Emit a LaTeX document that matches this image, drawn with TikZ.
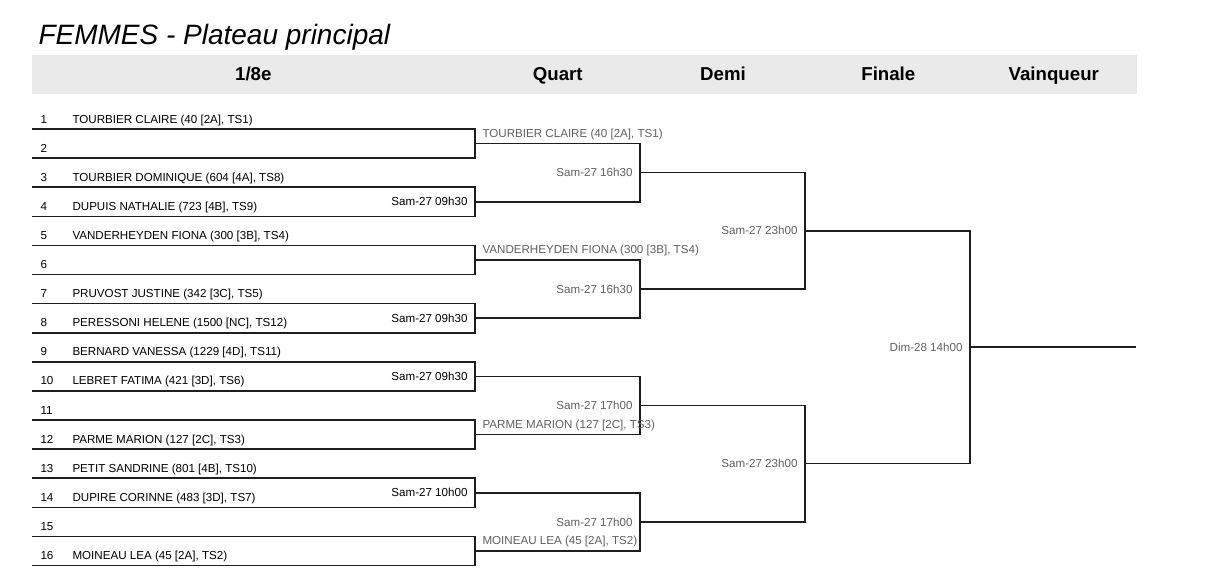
\documentclass[tikz,border=0pt]{standalone}
\usepackage{fontspec}
\setmainfont{Liberation Sans}
\usetikzlibrary{positioning}

\definecolor{bandgray}{RGB}{234,234,234}
\definecolor{qualgray}{RGB}{95,95,95}
\definecolor{linegray}{RGB}{30,30,30}

\tikzset{
	seed/.style={anchor=base west, inner sep=0pt, font=\fontsize{8.7}{10}\selectfont},
	qual/.style={seed, text=qualgray},
	hour/.style={inner sep=0pt, font=\fontsize{8.7}{10}\selectfont},
	later/.style={hour, text=qualgray},
	phase/.style={anchor=base, inner sep=0pt, font=\fontsize{14}{17}\selectfont\bfseries},
	bracket/.style={draw=linegray, line width=1.2pt}}
\tikzset{every picture/.style={line width=0.75pt}}

\begin{document}
\begin{tikzpicture}[x=0.75pt,y=0.75pt,yscale=-1,xscale=1]
	\useasboundingbox (0,0) rectangle (1226,581);

	% Title
	\node [anchor=base west, inner sep=0pt, font=\fontsize{21}{25}\selectfont\itshape] (title) at (38,44.5) {FEMMES - Plateau principal};

	%Shape: Rectangle (header band)
	\fill [bandgray] (32,55) rectangle (1137,94.5);
	% Text Node
	\node [phase] (ph1) at (253.3,81) {1/8e};
	\node [phase] (ph2) at (557.8,81) {Quart};
	\node [phase] (ph3) at (723,81) {Demi};
	\node [phase] (ph4) at (888.3,81) {Finale};
	\node [phase] (ph5) at (1053.8,81) {Vainqueur};

	% line starts of the 16 entries
	\coordinate (s1) at (32,129);
	\coordinate (s2) at (32,158.1);
	\coordinate (s3) at (32,187.2);
	\coordinate (s4) at (32,216.3);
	\coordinate (s5) at (32,245.4);
	\coordinate (s6) at (32,274.5);
	\coordinate (s7) at (32,303.6);
	\coordinate (s8) at (32,332.7);
	\coordinate (s9) at (32,361.8);
	\coordinate (s10) at (32,390.9);
	\coordinate (s11) at (32,420);
	\coordinate (s12) at (32,449.1);
	\coordinate (s13) at (32,478.2);
	\coordinate (s14) at (32,507.3);
	\coordinate (s15) at (32,536.4);
	\coordinate (s16) at (32,565.5);
	% match points
	\coordinate (m1) at (475,143.55);
	\coordinate (m2) at (475,201.75);
	\coordinate (m3) at (475,259.95);
	\coordinate (m4) at (475,318.15);
	\coordinate (m5) at (475,376.35);
	\coordinate (m6) at (475,434.55);
	\coordinate (m7) at (475,492.75);
	\coordinate (m8) at (475,550.95);
	\coordinate (q1) at (640,172.65);
	\coordinate (q2) at (640,289.05);
	\coordinate (q3) at (640,405.45);
	\coordinate (q4) at (640,521.85);
	\coordinate (d1) at (805,230.85);
	\coordinate (d2) at (805,463.65);
	\coordinate (f) at (970,347.25);
	\coordinate (v) at (1136,347.25);

	%Shape: Brackets 1/8e
	\draw [bracket] (s1) -| (m1) |- (s2);
	\draw [bracket] (s3) -| (m2) |- (s4);
	\draw [bracket] (s5) -| (m3) |- (s6);
	\draw [bracket] (s7) -| (m4) |- (s8);
	\draw [bracket] (s9) -| (m5) |- (s10);
	\draw [bracket] (s11) -| (m6) |- (s12);
	\draw [bracket] (s13) -| (m7) |- (s14);
	\draw [bracket] (s15) -| (m8) |- (s16);
	%Shape: Brackets Quart
	\draw [bracket] (m1) -| (q1) |- (m2);
	\draw [bracket] (m3) -| (q2) |- (m4);
	\draw [bracket] (m5) -| (q3) |- (m6);
	\draw [bracket] (m7) -| (q4) |- (m8);
	%Shape: Brackets Demi
	\draw [bracket] (q1) -| (d1) |- (q2);
	\draw [bracket] (q3) -| (d2) |- (q4);
	%Shape: Bracket Finale
	\draw [bracket] (d1) -| (f) |- (d2);
	\draw [bracket] (f) -- (v);

	% Text Node
	\node [seed] (k1) at ([shift={(8,-6)}]s1) {1};
	\node [seed] (p1) at ([shift={(40,-6)}]s1) {TOURBIER CLAIRE (40 [2A], TS1)};
	\node [seed] (k2) at ([shift={(8,-6)}]s2) {2};
	\node [seed] (k3) at ([shift={(8,-6)}]s3) {3};
	\node [seed] (p3) at ([shift={(40,-6)}]s3) {TOURBIER DOMINIQUE (604 [4A], TS8)};
	\node [seed] (k4) at ([shift={(8,-6)}]s4) {4};
	\node [seed] (p4) at ([shift={(40,-6)}]s4) {DUPUIS NATHALIE (723 [4B], TS9)};
	\node [seed] (k5) at ([shift={(8,-6)}]s5) {5};
	\node [seed] (p5) at ([shift={(40,-6)}]s5) {VANDERHEYDEN FIONA (300 [3B], TS4)};
	\node [seed] (k6) at ([shift={(8,-6)}]s6) {6};
	\node [seed] (k7) at ([shift={(8,-6)}]s7) {7};
	\node [seed] (p7) at ([shift={(40,-6)}]s7) {PRUVOST JUSTINE (342 [3C], TS5)};
	\node [seed] (k8) at ([shift={(8,-6)}]s8) {8};
	\node [seed] (p8) at ([shift={(40,-6)}]s8) {PERESSONI HELENE (1500 [NC], TS12)};
	\node [seed] (k9) at ([shift={(8,-6)}]s9) {9};
	\node [seed] (p9) at ([shift={(40,-6)}]s9) {BERNARD VANESSA (1229 [4D], TS11)};
	\node [seed] (k10) at ([shift={(8,-6)}]s10) {10};
	\node [seed] (p10) at ([shift={(40,-6)}]s10) {LEBRET FATIMA (421 [3D], TS6)};
	\node [seed] (k11) at ([shift={(8,-6)}]s11) {11};
	\node [seed] (k12) at ([shift={(8,-6)}]s12) {12};
	\node [seed] (p12) at ([shift={(40,-6)}]s12) {PARME MARION (127 [2C], TS3)};
	\node [seed] (k13) at ([shift={(8,-6)}]s13) {13};
	\node [seed] (p13) at ([shift={(40,-6)}]s13) {PETIT SANDRINE (801 [4B], TS10)};
	\node [seed] (k14) at ([shift={(8,-6)}]s14) {14};
	\node [seed] (p14) at ([shift={(40,-6)}]s14) {DUPIRE CORINNE (483 [3D], TS7)};
	\node [seed] (k15) at ([shift={(8,-6)}]s15) {15};
	\node [seed] (k16) at ([shift={(8,-6)}]s16) {16};
	\node [seed] (p16) at ([shift={(40,-6)}]s16) {MOINEAU LEA (45 [2A], TS2)};

	% Text Node (qualified)
	\node [qual] (w1) at ([shift={(7,-6)}]m1) {TOURBIER CLAIRE (40 [2A], TS1)};
	\node [qual] (w3) at ([shift={(7,-6)}]m3) {VANDERHEYDEN FIONA (300 [3B], TS4)};
	\node [qual] (w6) at ([shift={(7,-6)}]m6) {PARME MARION (127 [2C], TS3)};
	\node [qual] (w8) at ([shift={(7,-6)}]m8) {MOINEAU LEA (45 [2A], TS2)};

	% Text Node (schedule)
	\node [hour, left=5.25pt of m2] (t2) {Sam-27 09h30};
	\node [hour, left=5.25pt of m4] (t4) {Sam-27 09h30};
	\node [hour, left=5.25pt of m5] (t5) {Sam-27 09h30};
	\node [hour, left=5.25pt of m7] (t7) {Sam-27 10h00};
	\node [later, left=5.25pt of q1] (tq1) {Sam-27 16h30};
	\node [later, left=5.25pt of q2] (tq2) {Sam-27 16h30};
	\node [later, left=5.25pt of q3] (tq3) {Sam-27 17h00};
	\node [later, left=5.25pt of q4] (tq4) {Sam-27 17h00};
	\node [later, left=5.25pt of d1] (td1) {Sam-27 23h00};
	\node [later, left=5.25pt of d2] (td2) {Sam-27 23h00};
	\node [later, left=5.25pt of f] (tf) {Dim-28 14h00};

\end{tikzpicture}
\end{document}
